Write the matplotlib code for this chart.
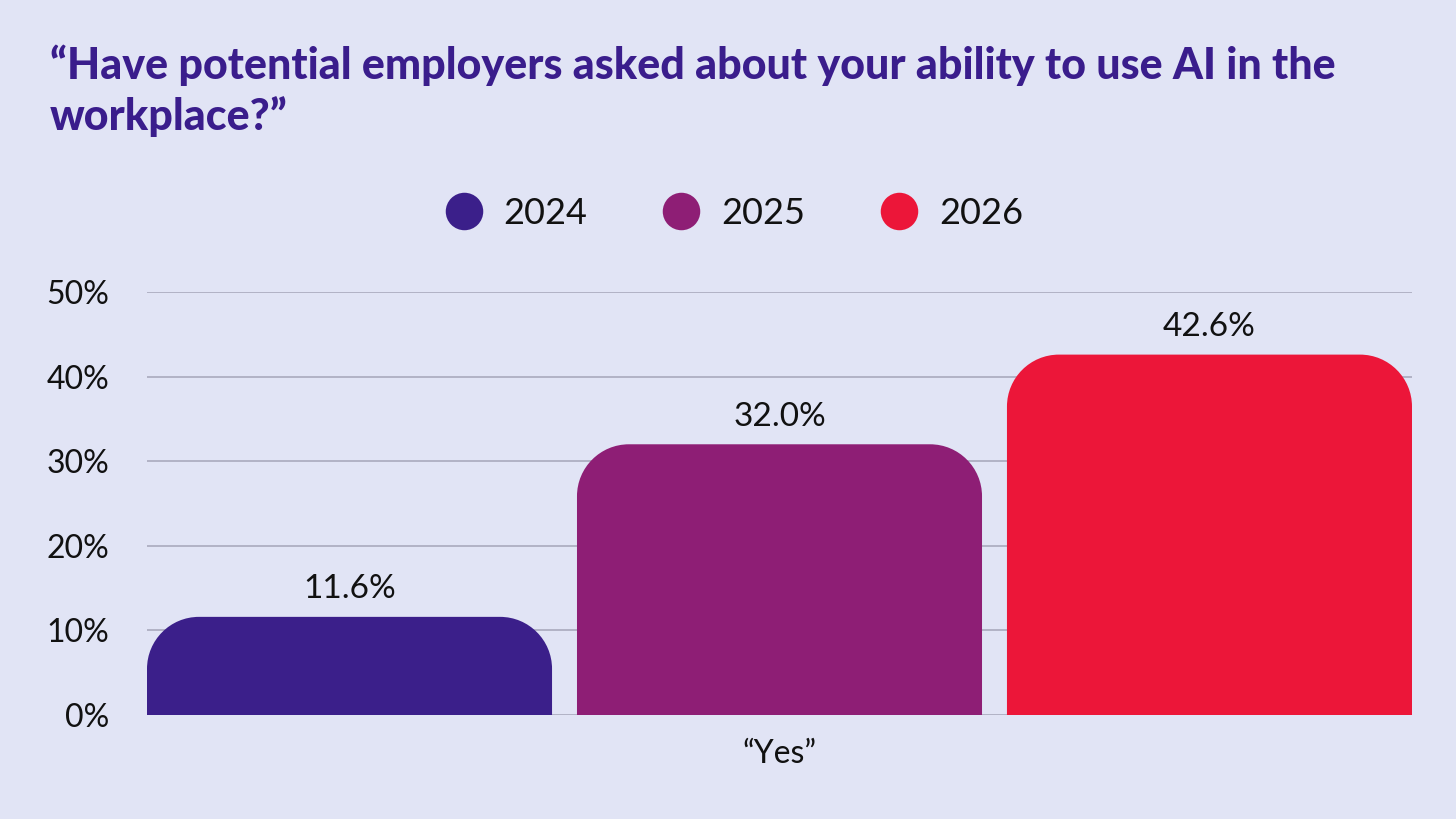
import matplotlib.pyplot as plt
from matplotlib.path import Path
from matplotlib.patches import PathPatch
from matplotlib.lines import Line2D

# Survey answers
years = ['2024', '2025', '2026']
yes_share = [11.6, 32.0, 42.6]
category = '\u201cYes\u201d'
y_ticks = [0, 10, 20, 30, 40, 50]
title = ('\u201cHave potential employers asked about your ability to use AI in the\n'
         'workplace?\u201d')

colors = {
    '2024': '#3B1F8A',
    '2025': '#8E1E75',
    '2026': '#EC1639',
    'title': '#3A1D8C',
    'grid': '#A9AABD',
    'background': '#E1E4F5',
    'text': '#111111',
}

plt.rcParams['font.family'] = ['Lato', 'DejaVu Sans']


def rounded_top_path(x0, width, height, rx, ry):
    # bar with rounded top corners, flat bottom
    k = 0.5523
    x1 = x0 + width
    verts = [
        (x0, 0), (x0, height - ry),
        (x0, height - ry + k * ry), (x0 + rx - k * rx, height), (x0 + rx, height),
        (x1 - rx, height),
        (x1 - rx + k * rx, height), (x1, height - ry + k * ry), (x1, height - ry),
        (x1, 0), (x0, 0),
    ]
    codes = [Path.MOVETO, Path.LINETO,
             Path.CURVE4, Path.CURVE4, Path.CURVE4,
             Path.LINETO,
             Path.CURVE4, Path.CURVE4, Path.CURVE4,
             Path.LINETO, Path.CLOSEPOLY]
    return Path(verts, codes)


fig = plt.figure(figsize=(14.56, 8.19), dpi=100)
fig.set_facecolor(colors['background'])
ax = fig.add_axes([147 / 1456, 1 - 715 / 819, 1265 / 1456, 423 / 819])
ax.set_facecolor(colors['background'])

bar_width = 0.942
ax.set_xlim(-bar_width / 2, len(years) - 1 + bar_width / 2)
ax.set_ylim(0, 50)

# corner radius in data units from a pixel radius
radius_px = 52
ax_w_px = 1265
ax_h_px = 423
rx = radius_px * (ax.get_xlim()[1] - ax.get_xlim()[0]) / ax_w_px
ry = radius_px * (ax.get_ylim()[1] - ax.get_ylim()[0]) / ax_h_px

for i, (year, val) in enumerate(zip(years, yes_share)):
    path = rounded_top_path(i - bar_width / 2, bar_width, val, rx, ry)
    ax.add_patch(PathPatch(path, facecolor=colors[year], edgecolor='none', zorder=3))
    ax.annotate(f'{val:.1f}%', xy=(i, val), xytext=(0, 9), textcoords='offset points',
                ha='center', va='bottom', fontsize=24, color=colors['text'])

ax.set_yticks(y_ticks)
ax.set_yticklabels([f'{t}%' for t in y_ticks])
ax.set_xticks([1])
ax.set_xticklabels([category])
ax.tick_params(axis='y', length=0, pad=27, labelsize=23, labelcolor=colors['text'])
ax.tick_params(axis='x', length=0, pad=17, labelsize=23, labelcolor=colors['text'])
ax.grid(True, axis='y', color=colors['grid'], linewidth=1.2, zorder=0)
for spine in ax.spines.values():
    spine.set_visible(False)

fig.text(50 / 1456, 1 - 44 / 819, title, ha='left', va='top', fontsize=31,
         fontweight='black', color=colors['title'], linespacing=1.3)

handles = [Line2D([], [], linestyle='none', marker='o', markersize=27,
                  markerfacecolor=colors[y], markeredgecolor='none') for y in years]
fig.legend(handles, years, loc='center', bbox_to_anchor=(729 / 1456, 1 - 213 / 819),
           ncol=3, frameon=False, fontsize=26, handlelength=1.6, handletextpad=0.3,
           columnspacing=1.8, labelcolor=colors['text'])

fig.savefig('out.png', dpi=100, facecolor=colors['background'])
